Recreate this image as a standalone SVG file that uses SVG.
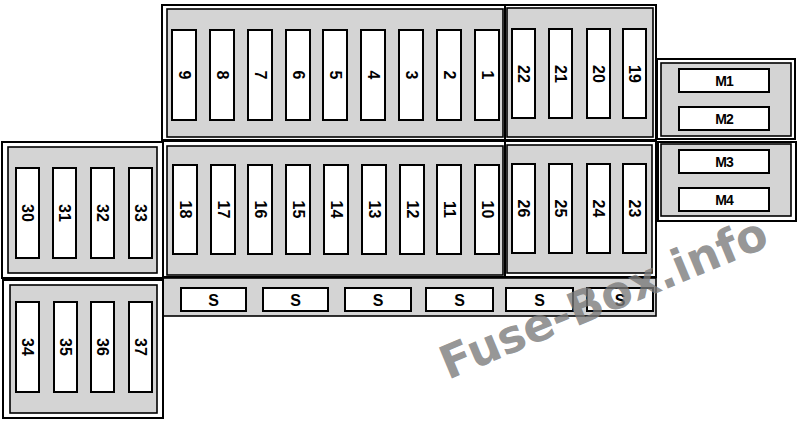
<svg xmlns="http://www.w3.org/2000/svg" width="800" height="421" viewBox="0 0 800 421">
<style>
.outer{fill:#fff;stroke:#000;stroke-width:2}
.panel{fill:#d4d4d4;stroke:#000;stroke-width:1.6}
.fuse{fill:#fff;stroke:#000;stroke-width:2}
.num{font-family:"Liberation Sans",Arial,sans-serif;font-weight:bold;font-size:16px;text-anchor:middle;dominant-baseline:central;fill:#000}
.m{font-family:"Liberation Sans",Arial,sans-serif;font-weight:bold;font-size:14px;text-anchor:middle;dominant-baseline:central;fill:#000;letter-spacing:-1px}
.s{font-family:"Liberation Sans",Arial,sans-serif;font-weight:bold;font-size:16px;text-anchor:middle;dominant-baseline:central;fill:#000}
.wm{font-family:"DejaVu Sans",Verdana,sans-serif;font-weight:bold;font-size:46px;fill:#7a7a7a;fill-opacity:0.8}
</style>
<g id="block-top-left">
<rect class="outer" x="162" y="5" width="343" height="135"/>
<rect class="panel" x="167" y="9" width="336" height="128"/>
</g>
<g id="block-top-right">
<rect class="outer" x="505" y="5" width="151" height="135"/>
<rect class="panel" x="507" y="8" width="146" height="129"/>
</g>
<g id="block-mid-left">
<rect class="outer" x="162" y="141" width="343" height="136"/>
<rect class="panel" x="167" y="146" width="336" height="129"/>
</g>
<g id="block-mid-right">
<rect class="outer" x="505" y="141" width="151" height="136"/>
<rect class="panel" x="507" y="145" width="145" height="128"/>
</g>
<g id="block-s-row">
<rect class="panel" x="162" y="278" width="494" height="38" stroke-width="2"/>
</g>
<g id="block-m12">
<rect class="outer" x="657" y="59" width="138" height="80"/>
<rect class="panel" x="661" y="63" width="130" height="73"/>
</g>
<g id="block-m34">
<rect class="outer" x="658" y="142" width="138" height="79"/>
<rect class="panel" x="661" y="144" width="130" height="72"/>
</g>
<g id="block-left-top">
<rect class="outer" x="2" y="142" width="161" height="136"/>
<rect class="panel" x="8" y="147" width="149" height="126"/>
</g>
<g id="block-left-bottom">
<rect class="outer" x="3" y="280" width="160" height="138"/>
<rect class="panel" x="10" y="285" width="147" height="128"/>
</g>

<g id="fuses-top-left">
<g id="f9"><rect class="fuse" x="172" y="30" width="24" height="90"/><text class="num" transform="translate(184,75) rotate(90)">9</text></g>
<g id="f8"><rect class="fuse" x="210" y="30" width="24" height="90"/><text class="num" transform="translate(222,75) rotate(90)">8</text></g>
<g id="f7"><rect class="fuse" x="248" y="30" width="24" height="90"/><text class="num" transform="translate(260,75) rotate(90)">7</text></g>
<g id="f6"><rect class="fuse" x="286" y="30" width="24" height="90"/><text class="num" transform="translate(298,75) rotate(90)">6</text></g>
<g id="f5"><rect class="fuse" x="323" y="30" width="24" height="90"/><text class="num" transform="translate(335,75) rotate(90)">5</text></g>
<g id="f4"><rect class="fuse" x="361" y="30" width="24" height="90"/><text class="num" transform="translate(373,75) rotate(90)">4</text></g>
<g id="f3"><rect class="fuse" x="399" y="30" width="24" height="90"/><text class="num" transform="translate(411,75) rotate(90)">3</text></g>
<g id="f2"><rect class="fuse" x="437" y="30" width="24" height="90"/><text class="num" transform="translate(449,75) rotate(90)">2</text></g>
<g id="f1"><rect class="fuse" x="475" y="30" width="24" height="90"/><text class="num" transform="translate(487,75) rotate(90)">1</text></g>
</g>
<g id="fuses-top-right">
<g id="f22"><rect class="fuse" x="512" y="29" width="23" height="89"/><text class="num" transform="translate(523.5,74) rotate(90)">22</text></g>
<g id="f21"><rect class="fuse" x="549" y="29" width="23" height="89"/><text class="num" transform="translate(560.5,74) rotate(90)">21</text></g>
<g id="f20"><rect class="fuse" x="587" y="29" width="23" height="89"/><text class="num" transform="translate(598.5,74) rotate(90)">20</text></g>
<g id="f19"><rect class="fuse" x="623" y="29" width="23" height="89"/><text class="num" transform="translate(634.5,74) rotate(90)">19</text></g>
</g>
<g id="fuses-mid-left">
<g id="f18"><rect class="fuse" x="173" y="165" width="24" height="89"/><text class="num" transform="translate(185,209.5) rotate(90)">18</text></g>
<g id="f17"><rect class="fuse" x="211" y="165" width="24" height="89"/><text class="num" transform="translate(223,209.5) rotate(90)">17</text></g>
<g id="f16"><rect class="fuse" x="248" y="165" width="24" height="89"/><text class="num" transform="translate(260,209.5) rotate(90)">16</text></g>
<g id="f15"><rect class="fuse" x="286" y="165" width="24" height="89"/><text class="num" transform="translate(298,209.5) rotate(90)">15</text></g>
<g id="f14"><rect class="fuse" x="324" y="165" width="24" height="89"/><text class="num" transform="translate(336,209.5) rotate(90)">14</text></g>
<g id="f13"><rect class="fuse" x="362" y="165" width="24" height="89"/><text class="num" transform="translate(374,209.5) rotate(90)">13</text></g>
<g id="f12"><rect class="fuse" x="400" y="165" width="24" height="89"/><text class="num" transform="translate(412,209.5) rotate(90)">12</text></g>
<g id="f11"><rect class="fuse" x="437" y="165" width="24" height="89"/><text class="num" transform="translate(449,209.5) rotate(90)">11</text></g>
<g id="f10"><rect class="fuse" x="475" y="165" width="24" height="89"/><text class="num" transform="translate(487,209.5) rotate(90)">10</text></g>
</g>
<g id="fuses-mid-right">
<g id="f26"><rect class="fuse" x="512" y="164" width="23" height="89"/><text class="num" transform="translate(523.5,208.5) rotate(90)">26</text></g>
<g id="f25"><rect class="fuse" x="549" y="164" width="23" height="89"/><text class="num" transform="translate(560.5,208.5) rotate(90)">25</text></g>
<g id="f24"><rect class="fuse" x="587" y="164" width="23" height="89"/><text class="num" transform="translate(598.5,208.5) rotate(90)">24</text></g>
<g id="f23"><rect class="fuse" x="623" y="164" width="23" height="89"/><text class="num" transform="translate(634.5,208.5) rotate(90)">23</text></g>
</g>
<g id="fuses-left-top">
<g id="f30"><rect class="fuse" x="16" y="168" width="23" height="90"/><text class="num" transform="translate(27.5,213) rotate(90)">30</text></g>
<g id="f31"><rect class="fuse" x="53" y="168" width="23" height="90"/><text class="num" transform="translate(64.5,213) rotate(90)">31</text></g>
<g id="f32"><rect class="fuse" x="91" y="168" width="23" height="90"/><text class="num" transform="translate(102.5,213) rotate(90)">32</text></g>
<g id="f33"><rect class="fuse" x="129" y="168" width="23" height="90"/><text class="num" transform="translate(140.5,213) rotate(90)">33</text></g>
</g>
<g id="fuses-left-bottom">
<g id="f34"><rect class="fuse" x="16" y="302" width="23" height="90"/><text class="num" transform="translate(27.5,347) rotate(90)">34</text></g>
<g id="f35"><rect class="fuse" x="54" y="302" width="23" height="90"/><text class="num" transform="translate(65.5,347) rotate(90)">35</text></g>
<g id="f36"><rect class="fuse" x="91" y="302" width="23" height="90"/><text class="num" transform="translate(102.5,347) rotate(90)">36</text></g>
<g id="f37"><rect class="fuse" x="129" y="302" width="23" height="90"/><text class="num" transform="translate(140.5,347) rotate(90)">37</text></g>
</g>
<g id="fuses-m">
<g id="m1"><rect class="fuse" x="679" y="69" width="90" height="23"/><text class="m" x="724" y="81">M1</text></g>
<g id="m2"><rect class="fuse" x="679" y="107" width="90" height="23"/><text class="m" x="724" y="119">M2</text></g>
<g id="m3"><rect class="fuse" x="679" y="150" width="90" height="23"/><text class="m" x="724" y="162">M3</text></g>
<g id="m4"><rect class="fuse" x="679" y="188" width="90" height="23"/><text class="m" x="724" y="200">M4</text></g>
</g>
<g id="fuses-s">
<g id="s1"><rect class="fuse" x="181" y="288" width="65" height="23"/><text class="s" x="213.5" y="300">S</text></g>
<g id="s2"><rect class="fuse" x="263" y="288" width="65" height="23"/><text class="s" x="295.5" y="300">S</text></g>
<g id="s3"><rect class="fuse" x="345" y="288" width="66" height="23"/><text class="s" x="378" y="300">S</text></g>
<g id="s4"><rect class="fuse" x="426" y="288" width="67" height="23"/><text class="s" x="459.5" y="300">S</text></g>
<g id="s5"><rect class="fuse" x="506" y="288" width="67" height="23"/><text class="s" x="539.5" y="300">S</text></g>
<g id="s6"><rect class="fuse" x="587" y="288" width="66" height="23"/><text class="s" x="620" y="300">S</text></g>
</g>
<g id="connectors"/>
<text class="wm" transform="translate(448,380) rotate(-22.6)" textLength="350" lengthAdjust="spacingAndGlyphs">Fuse-Box.info</text>
</svg>
